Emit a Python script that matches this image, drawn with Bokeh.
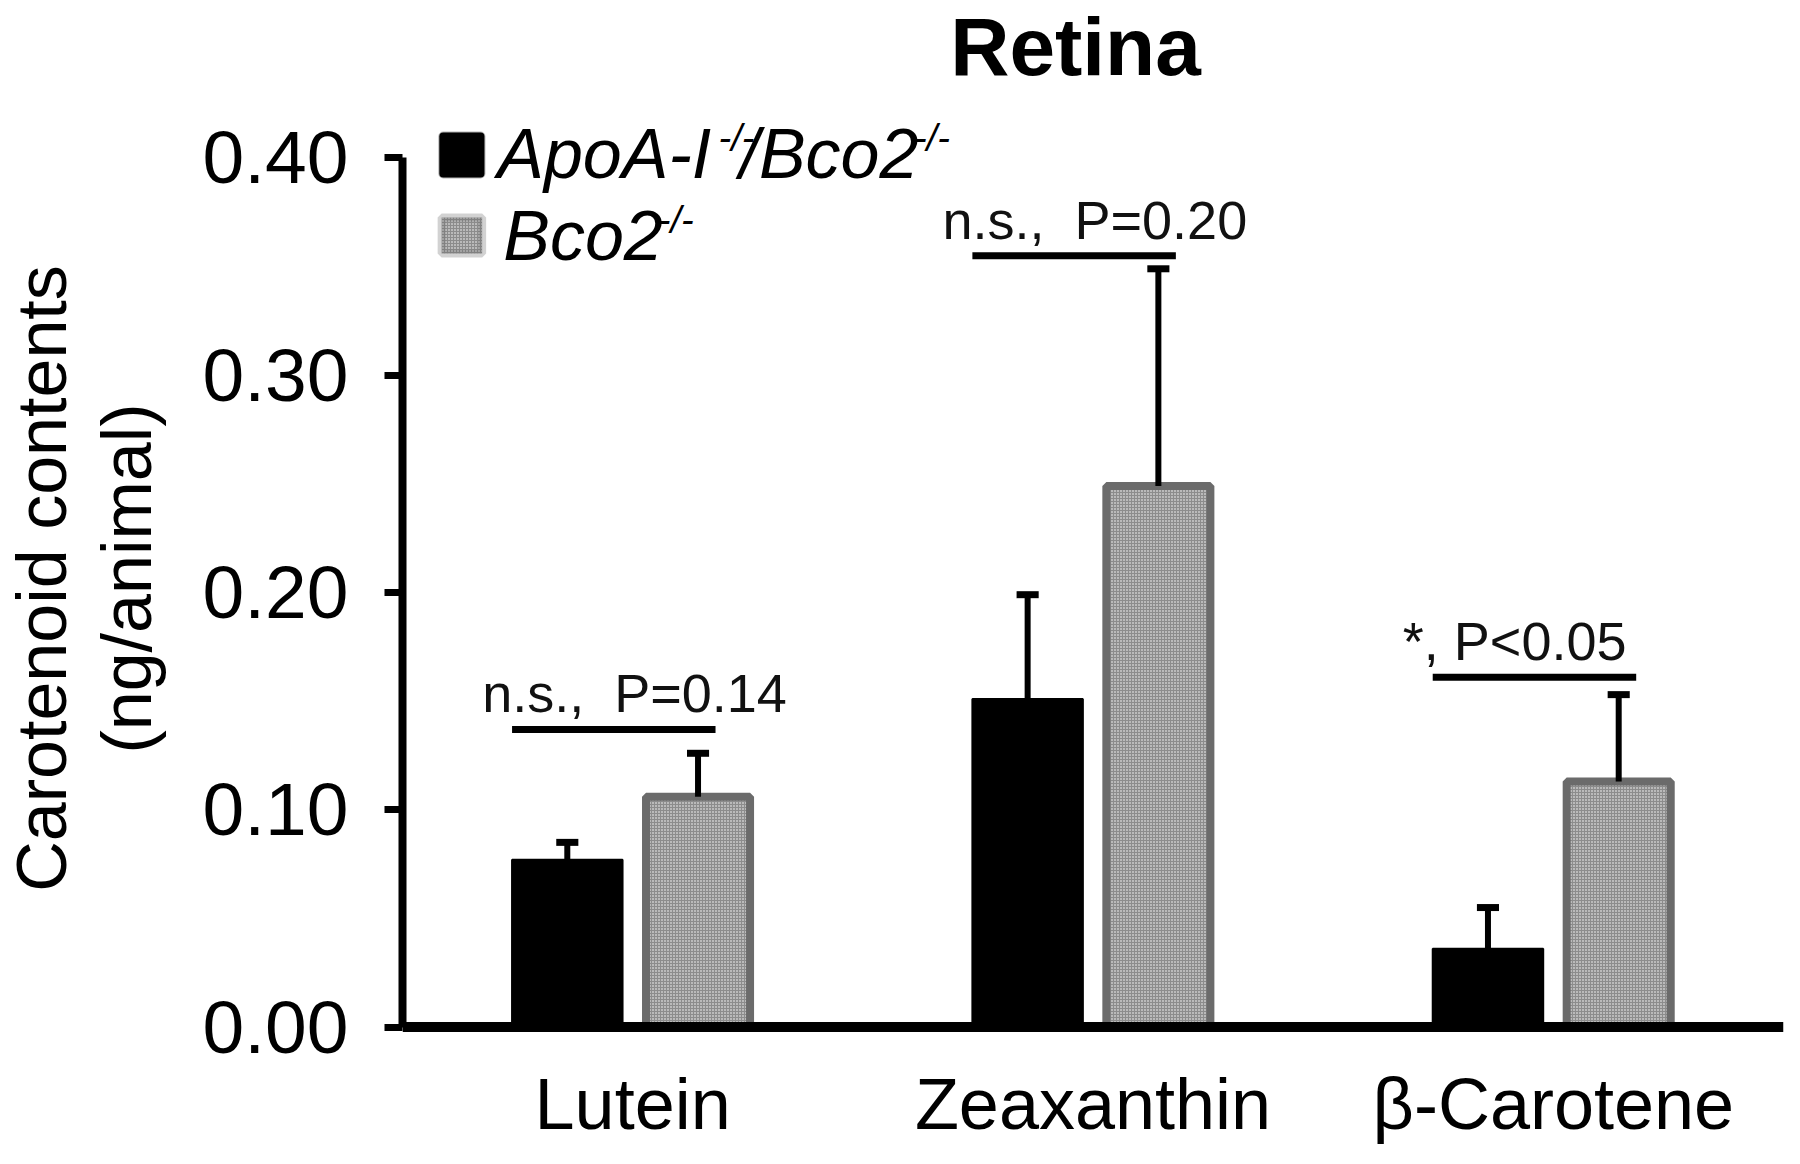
from bokeh.plotting import figure
from bokeh.models import (ColumnDataSource, FactorRange, Range1d, FixedTicker,
                          NumeralTickFormatter, Label, BoxAnnotation, Span)
from bokeh.transform import dodge
from bokeh.embed import file_html
from bokeh.resources import INLINE

# ---------------- data ----------------
categories = ["Lutein", "Zeaxanthin", "β-Carotene"]
apo_mean = [0.077, 0.151, 0.036]     # ApoA-I-/-/Bco2-/-
apo_sem = [0.008, 0.048, 0.019]
bco_mean = [0.106, 0.249, 0.113]     # Bco2-/-
bco_sem = [0.020, 0.100, 0.040]
sig_y = [0.137, 0.355, 0.161]
sig_text = ["n.s.,\u00a0 P=0.14", "n.s.,\u00a0 P=0.20", "*, P<0.05"]
y_ticks = [0.0, 0.1, 0.2, 0.3, 0.4]

FONT = "Liberation Sans"
GREY_LINE = "#6b6b6b"
GREY_FILL = dict(fill_color="#8c8c8c", hatch_pattern="dot", hatch_color="white",
                 hatch_scale=3, hatch_weight=2.4)

src = ColumnDataSource(dict(
    cat=categories,
    a=apo_mean, a_hi=[m + s for m, s in zip(apo_mean, apo_sem)],
    b=bco_mean, b_hi=[m + s for m, s in zip(bco_mean, bco_sem)],
    sy=sig_y, st=sig_text,
))

p = figure(x_range=FactorRange(*categories), y_range=Range1d(-0.0559, 0.4688),
           width=1784, height=1148, output_backend="svg", toolbar_location=None,
           min_border_left=398, min_border_right=1, min_border_top=8,
           min_border_bottom=0)
p.outline_line_color = None
p.xgrid.grid_line_color = None
p.ygrid.grid_line_color = None
p.background_fill_color = "white"
p.xaxis.visible = False

OFF = 0.142

# bars
p.vbar(x=dodge("cat", -OFF, range=p.x_range), top="a", bottom=0, width=0.24,
       source=src, fill_color="black", line_color="black", line_width=2)
p.vbar(x=dodge("cat", OFF, range=p.x_range), top="b", bottom=0, width=0.226,
       source=src, line_color=GREY_LINE, line_width=8, **GREY_FILL)

# x axis line at zero
p.add_layout(Span(location=0, dimension="width", line_color="black", line_width=10))

# error bars (upper only)
CAP = 0.024
for off, lo, hi in [(-OFF, "a", "a_hi"), (OFF, "b", "b_hi")]:
    p.segment(x0=dodge("cat", off, range=p.x_range), y0=lo,
              x1=dodge("cat", off, range=p.x_range), y1=hi,
              source=src, line_color="black", line_width=6)
    p.segment(x0=dodge("cat", off - CAP, range=p.x_range), y0=hi,
              x1=dodge("cat", off + CAP, range=p.x_range), y1=hi,
              source=src, line_color="black", line_width=7)

# significance lines and texts
p.segment(x0=dodge("cat", -0.262, range=p.x_range), y0="sy",
          x1=dodge("cat", 0.18, range=p.x_range), y1="sy",
          source=src, line_color="black", line_width=7)
p.text(x=dodge("cat", -0.327, range=p.x_range), y="sy", text="st", source=src,
       y_offset=-36, text_align="left", text_baseline="alphabetic",
       text_font={"value": FONT}, text_font_size={"value": "54px"},
       text_color="#111111")

# category labels under the x axis
p.text(x="cat", y=0, text="cat", source=src, y_offset=37,
       text_align="center", text_baseline="top",
       text_font={"value": FONT}, text_font_size={"value": "72px"},
       text_color="black")

# y axis
yax = p.yaxis[0]
yax.ticker = FixedTicker(ticks=y_ticks)
yax.formatter = NumeralTickFormatter(format="0.00")
yax.bounds = (0, 0.4)
yax.axis_line_width = 8
yax.major_tick_line_width = 7
yax.major_tick_out = 18
yax.major_tick_in = 0
yax.minor_tick_line_color = None
yax.major_label_text_font = FONT
yax.major_label_text_font_size = "75px"
yax.major_label_text_color = "black"
yax.major_label_standoff = 36
yax.axis_label = "Carotenoid contents\n(ng/animal)"
yax.axis_label_text_font = FONT
yax.axis_label_text_font_size = "70px"
yax.axis_label_text_font_style = "normal"
yax.axis_label_text_color = "black"
yax.axis_label_text_line_height = 1.08
yax.axis_label_standoff = 34

# title
p.add_layout(Label(x=1.462, y=0.4512, text="Retina", text_align="center",
                   text_baseline="alphabetic", text_font=FONT,
                   text_font_size="82px", text_font_style="bold",
                   text_color="black"))

# legend (manual, to allow superscripts)
p.add_layout(BoxAnnotation(left=0.080, right=0.178, bottom=0.3910, top=0.4117,
                           fill_color="black", fill_alpha=1, line_color="black",
                           line_width=2, border_radius=4))
p.add_layout(BoxAnnotation(left=0.085, right=0.173, bottom=0.3560, top=0.3726,
                           fill_alpha=1, line_color=GREY_LINE, line_width=8,
                           **GREY_FILL))


def lab(x, y, t, size):
    p.add_layout(Label(x=x, y=y, text=t, text_align="left",
                       text_baseline="alphabetic", text_font=FONT,
                       text_font_size=size, text_font_style="italic",
                       text_color="black"))


lab(0.2058, 0.4017, "ApoA-I", "70px")
lab(0.6866, 0.4090, "-/-", "38px")
lab(0.732, 0.4017, "/Bco2", "70px")
lab(1.111, 0.4090, "-/-", "38px")
lab(0.2188, 0.3639, "Bco2", "70px")
lab(0.5545, 0.3713, "-/-", "38px")

open("out.html", "w").write(file_html(p, INLINE))
